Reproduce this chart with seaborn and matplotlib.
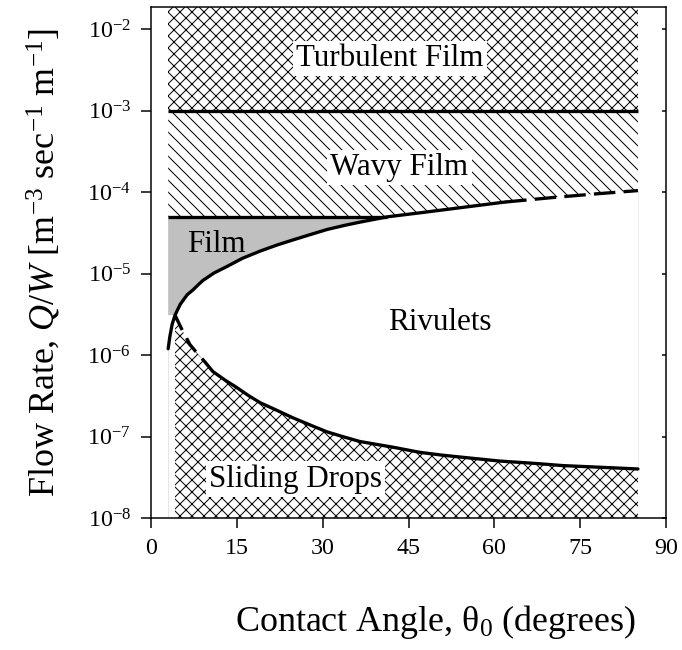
import numpy as np
import matplotlib
matplotlib.use("Agg")
import matplotlib.pyplot as plt
import seaborn as sns

# ---------------- data ----------------
# film / rivulet boundary (solid part)
upper_x = [3.0, 3.3, 3.7, 4.2, 5.1, 6.3, 7.3, 9.0, 11.0, 13.3, 16.0, 19.1, 22.0, 24.8,
           28.0, 30.8, 34.0, 36.5, 39.0, 41.3, 47.0, 55.0, 61.9]
upper_y = [1.2e-6, 1.7e-6, 2.4e-6, 3.1e-6, 4.2e-6, 5.5e-6, 6.3e-6, 8.2e-6, 1.02e-5, 1.23e-5,
           1.55e-5, 1.9e-5, 2.25e-5, 2.6e-5, 3.05e-5, 3.5e-5, 3.95e-5, 4.3e-5, 4.65e-5,
           5.0e-5, 5.6e-5, 6.6e-5, 7.6e-5]
# film / rivulet boundary (dashed extension)
upper_dash_x = [61.9, 70.0, 78.0, 85.1]
upper_dash_y = [7.6e-5, 8.6e-5, 9.6e-5, 1.05e-4]
# rivulet / sliding drops boundary (dashed start)
lower_dash_x = [4.2, 5.5, 6.8, 8.1, 9.4, 10.8]
lower_dash_y = [3.1e-6, 2.0e-6, 1.35e-6, 1.05e-6, 8.3e-7, 6.3e-7]
# rivulet / sliding drops boundary (solid)
lower_x = [10.8, 13.0, 15.0, 17.0, 19.1, 22.0, 24.8, 28.0, 30.8, 33.5, 36.5, 39.5, 42.3,
           47.0, 51.0, 55.2, 61.0, 66.8, 72.0, 78.5, 85.1]
lower_y = [6.3e-7, 4.9e-7, 4.0e-7, 3.2e-7, 2.6e-7, 2.1e-7, 1.7e-7, 1.37e-7, 1.14e-7, 1.0e-7,
           8.7e-8, 8.0e-8, 7.4e-8, 6.4e-8, 5.9e-8, 5.5e-8, 5.0e-8, 4.7e-8, 4.4e-8, 4.2e-8, 4.0e-8]

turbulent_q = 1.0e-3      # turbulent / wavy transition
film_q = 5.0e-5           # film / wavy transition
x_start, x_end = 3.0, 85.1

region_labels = ["Turbulent Film", "Wavy Film", "Film", "Rivulets", "Sliding Drops"]
region_x = [41.8, 43.4, 11.5, 50.5, 25.2]
region_y = [4.4e-3, 2.0e-4, 2.3e-5, 2.5e-6, 3.0e-8]
region_box = [True, True, False, False, True]

x_ticks = [0, 15, 30, 45, 60, 75, 90]
y_ticks = [1e-8, 1e-7, 1e-6, 1e-5, 1e-4, 1e-3, 1e-2]
y_tick_labels = ["10$^{-8}$", "10$^{-7}$", "10$^{-6}$", "10$^{-5}$", "10$^{-4}$", "10$^{-3}$", "10$^{-2}$"]

# ---------------- style ----------------
sns.set_theme(style="ticks")
plt.rcParams["font.family"] = ["Liberation Serif", "DejaVu Serif"]
plt.rcParams["mathtext.fontset"] = "custom"
plt.rcParams["mathtext.rm"] = "Liberation Serif"
plt.rcParams["mathtext.it"] = "Liberation Serif:italic"
plt.rcParams["mathtext.default"] = "rm"
plt.rcParams["hatch.linewidth"] = 1.0
plt.rcParams["hatch.color"] = "black"
for key in ["text.color", "axes.labelcolor", "xtick.color", "ytick.color",
            "xtick.labelcolor", "ytick.labelcolor", "axes.edgecolor"]:
    plt.rcParams[key] = "black"

DPI = 72
fig = plt.figure(figsize=(682 / DPI, 650 / DPI), dpi=DPI)
fig.patch.set_facecolor("white")
ax = fig.add_axes([151 / 682, 1 - 518 / 650, (666 - 151) / 682, (518 - 7) / 650])
ax.set_facecolor("white")
ax.set_yscale("log")
ymin, ymax = 1e-8, 10 ** -1.724
ax.set_xlim(0, 90)
ax.set_ylim(ymin, ymax)

# ---------------- regions ----------------
# Turbulent film (cross hatch)
ax.fill_between([x_start, x_end], [turbulent_q, turbulent_q], [ymax, ymax],
                facecolor="white", edgecolor="black", hatch="xx", linewidth=0, zorder=1)
# Wavy film (diagonal hatch)
i_meet = upper_x.index(41.3)
wavy_x = [x_start] + upper_x[i_meet:] + upper_dash_x[1:]
wavy_low = [film_q] + upper_y[i_meet:] + upper_dash_y[1:]
ax.fill_between(wavy_x, wavy_low, [turbulent_q] * len(wavy_x),
                facecolor="white", edgecolor="black", hatch="\\\\", linewidth=0, zorder=1)
# Film (grey)
i_cusp = upper_x.index(4.2)
film_x = [x_start] + upper_x[i_cusp:i_meet + 1]
film_low = [upper_y[i_cusp]] + upper_y[i_cusp:i_meet + 1]
ax.fill_between(film_x, film_low, [film_q] * len(film_x),
                facecolor="#c0c0c0", edgecolor="none", linewidth=0, zorder=1)
# Sliding drops (cross hatch)
drops_x = lower_dash_x + lower_x[1:]
drops_y = lower_dash_y + lower_y[1:]
ax.fill_between(drops_x, [ymin] * len(drops_x), drops_y,
                facecolor="white", edgecolor="black", hatch="xx", linewidth=0, zorder=1)

# faint edges of the original white fill
ax.plot([x_start, x_start], [ymin, upper_y[0]], color="#e6e6e6", lw=1, zorder=1.5)
ax.plot([x_end, x_end], [lower_y[-1], upper_dash_y[-1]], color="#eeeeee", lw=1, zorder=1.5)

# ---------------- boundaries ----------------
LW = 3.3
ax.plot([x_start, x_end], [turbulent_q, turbulent_q], color="black", lw=LW,
        solid_capstyle="butt", zorder=3)
ax.plot([x_start, upper_x[i_meet]], [film_q, film_q], color="black", lw=LW,
        solid_capstyle="butt", zorder=3)
sns.lineplot(x=upper_x, y=upper_y, ax=ax, color="black", lw=LW, sort=False,
             estimator=None, zorder=3)
sns.lineplot(x=upper_dash_x, y=upper_dash_y, ax=ax, color="black", lw=LW, sort=False,
             estimator=None, linestyle=(0, (6.5, 2.5)), zorder=3)
sns.lineplot(x=lower_dash_x, y=lower_dash_y, ax=ax, color="black", lw=LW, sort=False,
             estimator=None, linestyle=(0, (5.0, 2.8)), zorder=3)
sns.lineplot(x=lower_x, y=lower_y, ax=ax, color="black", lw=LW, sort=False,
             estimator=None, zorder=3)

# ---------------- labels in regions ----------------
for lab, lx, ly, box in zip(region_labels, region_x, region_y, region_box):
    kw = dict(ha="center", va="center", fontsize=31, color="black", zorder=4)
    if box:
        kw["bbox"] = dict(facecolor="white", edgecolor="none", pad=3)
    ax.text(lx, ly, lab, **kw)

# ---------------- axes ----------------
ax.set_xticks(x_ticks)
ax.set_xticklabels([str(t) for t in x_ticks])
ax.set_yticks(y_ticks)
ax.set_yticklabels(y_tick_labels)
ax.minorticks_off()
ax.tick_params(axis="both", which="major", labelsize=24, color="black", labelcolor="black",
               width=1.5, length=10, direction="out", pad=10)
ax.tick_params(axis="y", right=True, labelright=False)
for sp in ax.spines.values():
    sp.set_color("black")
    sp.set_linewidth(1.5)
ax.set_xlabel("Contact Angle, θ$_{0}$ (degrees)", fontsize=36, labelpad=44, color="black")
ax.set_ylabel("Flow Rate, $\\mathit{Q/W}$ [m$^{-3}$ sec$^{-1}$ m$^{-1}$]", fontsize=36,
              labelpad=24, color="black")
ax.xaxis.label.set_x(0.553)
# right-hand ticks are short and point inwards
for t in ax.yaxis.get_major_ticks():
    t.tick2line.set_markersize(4)
    t.tick2line.set_marker(matplotlib.lines.TICKLEFT)

fig.savefig("out.png", dpi=DPI, facecolor="white")
